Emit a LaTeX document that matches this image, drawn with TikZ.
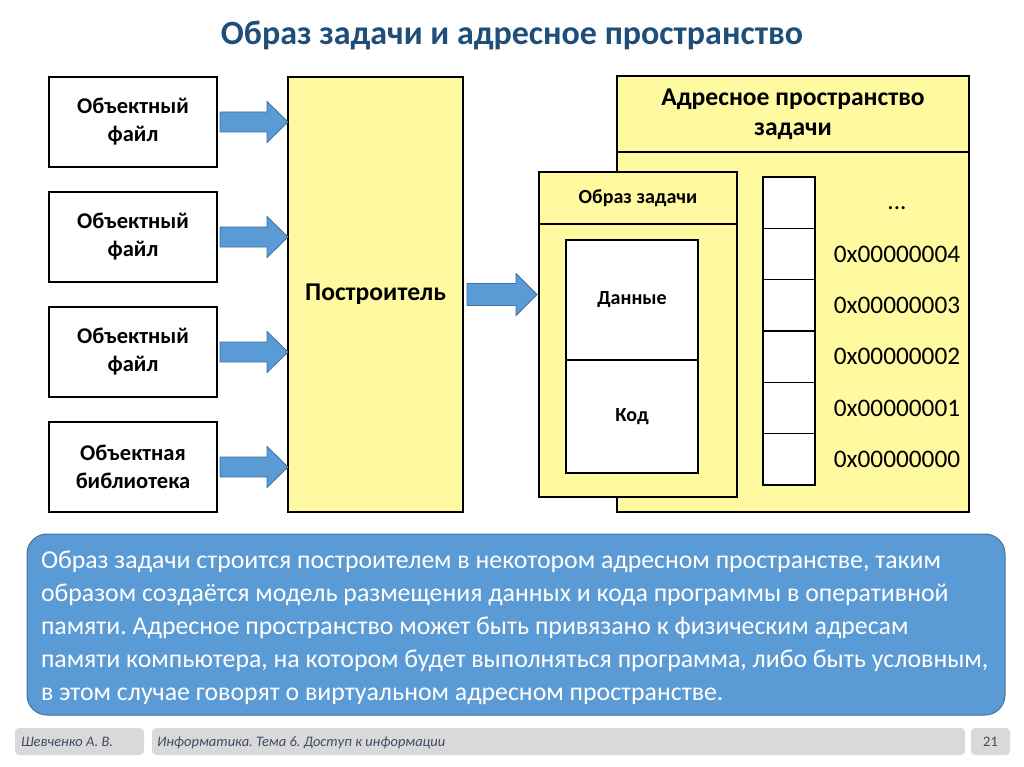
\documentclass[tikz,border=0pt]{standalone}
\usepackage{fontspec}
\setmainfont{Carlito}
\usetikzlibrary{calc}
\frenchspacing
\definecolor{titleblue}{HTML}{1F4E79}
\definecolor{ylw}{HTML}{FFFAA0}
\definecolor{arrowblue}{HTML}{5B9BD5}
\definecolor{arrowedge}{HTML}{41719C}
\definecolor{footgray}{HTML}{D9D9D9}
\definecolor{foottext}{HTML}{3E4C63}
\newcommand\blockarr[6]{% from, to, tail gap, tip gap, half shaft, half head
  \path[arrowshape] let \p1=(#1), \p2=(#2) in
    (\x1+#3pt,\y1+#5pt) -- (\x2-#4pt-21pt,\y1+#5pt) -- (\x2-#4pt-21pt,\y1+#6pt) -- (\x2-#4pt,\y1)
    -- (\x2-#4pt-21pt,\y1-#6pt) -- (\x2-#4pt-21pt,\y1-#5pt) -- (\x1+#3pt,\y1-#5pt) -- cycle;}
\begin{document}
\frenchspacing
\begin{tikzpicture}[x=1pt,y=-1pt,
  every node/.style={inner sep=0pt, outer sep=0pt},
  objbox/.style={draw=black, line width=1.3pt, fill=white, minimum width=168pt, minimum height=90pt,
    align=center, font=\fontsize{22.5}{28}\selectfont\bfseries},
  ybox/.style={draw=black, line width=1.3pt, fill=ylw, align=center},
  wbox/.style={draw=black, line width=1.3pt, fill=white, align=center},
  arrowshape/.style={fill=arrowblue, draw=arrowedge, line width=0.8pt},
  addr/.style={font=\fontsize{25.3}{28}\selectfont},
  txt/.style={anchor=base west, text=white, font=\fontsize{25.8}{33}\selectfont},
  footbox/.style={fill=footgray, rounded corners=4pt},
  foot/.style={text=foottext, font=\fontsize{14.5}{16}\selectfont\itshape}
]
\useasboundingbox (0,0) rectangle (1024,767);
\fill[white] (0,0) rectangle (1024,767);

% title
\node[font=\fontsize{34}{40}\selectfont\bfseries, text=titleblue] (title) at (512,36) {Образ задачи и адресное пространство};

% object files
\node[objbox] (o1) at (133,122) {Объектный\\файл};
\node[objbox] (o2) at (133,237) {Объектный\\файл};
\node[objbox] (o3) at (133,352) {Объектный\\файл};
\node[objbox] (o4) at (133,467) {Объектная\\библиотека};

% builder
\node[ybox, minimum width=175pt, minimum height=435pt, font=\fontsize{25.6}{30}\selectfont\bfseries] (b) at (375.5,294.5) {Построитель};

% arrows to builder
\blockarr{o1.east}{b.west}{3}{0}{10}{20.5}
\blockarr{o2.east}{b.west}{3}{0}{10}{20.5}
\blockarr{o3.east}{b.west}{3}{0}{10}{20.5}
\blockarr{o4.east}{b.west}{3}{0}{10}{20.5}

% address space
\node[ybox, minimum width=352pt, minimum height=436pt] (as) at (793,294) {};
\node[ybox, minimum width=352pt, minimum height=76pt, anchor=north, font=\fontsize{25.6}{30}\selectfont\bfseries] (ash) at (as.north) {Адресное пространство\\задачи};

% task image
\node[ybox, minimum width=198pt, minimum height=325pt] (im) at (638,334.5) {};
\node[ybox, minimum width=198pt, minimum height=52pt, anchor=north, font=\fontsize{20}{24}\selectfont\bfseries] (imh) at (im.north) {Образ задачи};
\node[wbox, minimum width=132pt, minimum height=120pt, font=\fontsize{20}{24}\selectfont\bfseries] (data) at (632,300) {Данные};
\node[wbox, minimum width=132pt, minimum height=113pt, font=\fontsize{20}{24}\selectfont\bfseries] (code) at (632,416.5) {Код};

% arrow builder -> image
\blockarr{b.east}{im.west}{4}{2}{11}{21}

% memory cells
\foreach \i in {0,...,5}{
  \node[wbox, minimum width=52pt, minimum height=51.33pt] (m\i) at (789,{177+51.33*(\i+0.5)}) {};
}
\node[addr] (l0) at ($(m0.center)+(108,6)$) {...};
\node[addr] (l1) at ($(m1.center)+(108,0)$) {0x00000004};
\node[addr] (l2) at ($(m2.center)+(108,0)$) {0x00000003};
\node[addr] (l3) at ($(m3.center)+(108,0)$) {0x00000002};
\node[addr] (l4) at ($(m4.center)+(108,0)$) {0x00000001};
\node[addr] (l5) at ($(m5.center)+(108,0)$) {0x00000000};

% text box
\node[draw=arrowedge, fill=arrowblue, line width=1pt, rounded corners=20pt, minimum width=978pt, minimum height=181pt, anchor=north west] (tb) at (27,534) {};
\node[txt] (t1) at (41,568) {Образ задачи строится построителем в некотором адресном пространстве, таким};
\node[txt] (t2) at (41,601) {образом создаётся модель размещения данных и кода программы в оперативной};
\node[txt] (t3) at (41,634) {памяти. Адресное пространство может быть привязано к физическим адресам};
\node[txt] (t4) at (41,667) {памяти компьютера, на котором будет выполняться программа, либо быть условным,};
\node[txt] (t5) at (41,700) {в этом случае говорят о виртуальном адресном пространстве.};

% footer
\node[footbox, minimum width=129pt, minimum height=27pt, anchor=north west] (f1) at (15,728) {};
\node[footbox, minimum width=813pt, minimum height=27pt, anchor=north west] (f2) at (152,728) {};
\node[footbox, minimum width=39pt, minimum height=27pt, anchor=north west] (f3) at (971,728) {};
\node[foot, anchor=base west] (ft1) at ($(f1.west)+(6,5)$) {Шевченко А. В.};
\node[foot, anchor=base west] (ft2) at ($(f2.west)+(5,5)$) {Информатика. Тема 6. Доступ к информации};
\node[foot, anchor=base, font=\fontsize{14.5}{16}\selectfont] (ft3) at ($(f3.center)+(0,5)$) {21};
\end{tikzpicture}
\end{document}
